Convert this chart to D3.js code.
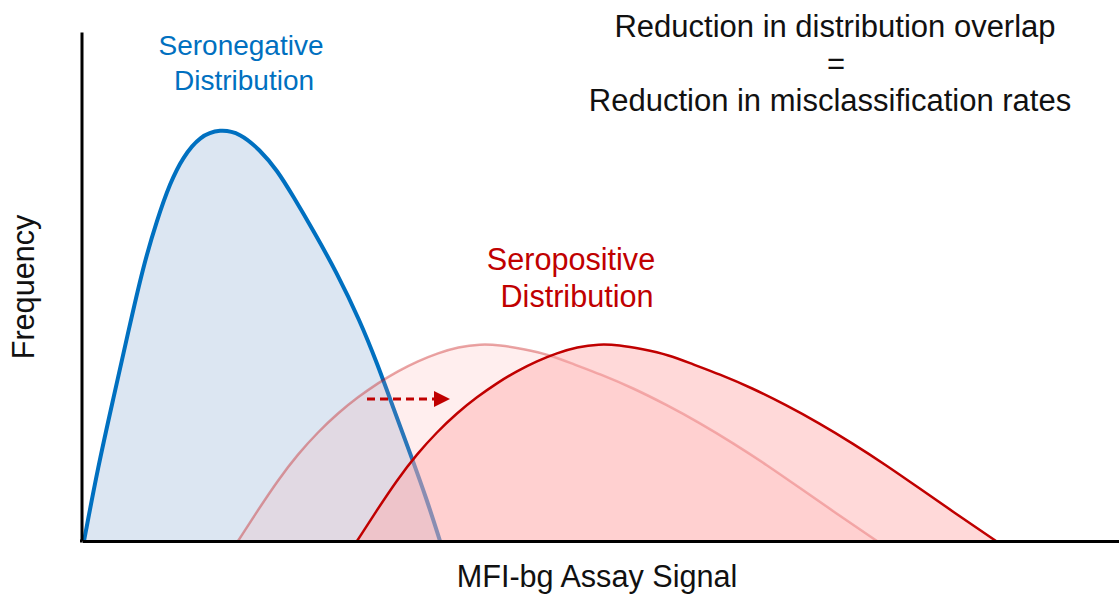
<!DOCTYPE html>
<html><head><meta charset="utf-8">
<script src="https://cdn.jsdelivr.net/npm/d3@7"></script>
<style>
html,body{margin:0;padding:0;background:#fff;}
svg{display:block;font-family:"Liberation Sans", Arial, Helvetica, sans-serif;}
</style>
</head><body>
<svg id="chart" width="1119" height="597"></svg>
<script>
// ---- Data (arbitrary signal / frequency units) ----
const seronegativeSignal = [2, 16, 31, 46, 61, 75, 88, 101, 118, 138, 158, 178, 195, 211, 231, 255, 278, 295, 311, 328, 345, 358];
const seronegativeFreq   = [0, 74, 141, 208, 274, 321, 358, 384, 405, 412, 408, 391, 371, 345, 311, 268, 220, 178, 134, 88, 41, 0];

const seropositiveBeforeSignal = [156, 176, 196, 216, 236, 256, 276, 296, 316, 336, 356, 376, 398, 418, 441, 468, 491, 518, 551, 585, 618, 651, 685, 718, 751, 795];
const seropositiveBeforeFreq   = [0, 31, 61, 87, 109, 128, 144, 158, 170, 180, 188, 194, 197, 196, 192, 186, 177, 167, 153, 136, 118, 98, 76, 53, 30, 0];

const seropositiveAfterSignal = [275, 295, 315, 335, 355, 375, 395, 415, 435, 455, 475, 495, 517, 537, 560, 587, 610, 637, 670, 704, 737, 770, 804, 837, 870, 914];
const seropositiveAfterFreq   = [0, 31, 61, 87, 109, 128, 144, 158, 170, 180, 188, 194, 197, 196, 192, 186, 177, 167, 153, 136, 118, 98, 76, 53, 30, 0];

const shiftArrowSignal = [285, 368];
const shiftArrowFreq = 142;

const xLabel = "MFI-bg Assay Signal";
const yLabel = "Frequency";
const negLabel = ["Seronegative", "Distribution"];
const posLabel = ["Seropositive", "Distribution"];
const titleLines = ["Reduction in distribution overlap", "=", "Reduction in misclassification rates"];

// ---- Drawing ----
const svg = d3.select("#chart");
const x = d3.scaleLinear().domain([0, 1037]).range([82, 1119]);
const y = d3.scaleLinear().domain([0, 509]).range([541, 32]);

const zip = (xs, ys) => xs.map((v, i) => ({x: v, y: ys[i]}));
const area = d3.area().x(d => x(d.x)).y0(y(0)).y1(d => y(d.y)).curve(d3.curveBasis);
const line = d3.line().x(d => x(d.x)).y(d => y(d.y)).curve(d3.curveBasis);

const neg = zip(seronegativeSignal, seronegativeFreq);
const posBefore = zip(seropositiveBeforeSignal, seropositiveBeforeFreq);
const posAfter = zip(seropositiveAfterSignal, seropositiveAfterFreq);

// seronegative
svg.append("path").attr("d", area(neg)).attr("fill", "#DCE6F2");
svg.append("path").attr("d", line(neg)).attr("fill", "none").attr("stroke", "#0070C0").attr("stroke-width", 4).attr("stroke-linejoin", "round");

// seropositive (before shift, faded)
svg.append("path").attr("d", area(posBefore)).attr("fill", "rgba(255,150,150,0.16)");
svg.append("path").attr("d", line(posBefore)).attr("fill", "none").attr("stroke", "#C00000").attr("stroke-opacity", 0.35).attr("stroke-width", 2.5);

// seropositive (after shift)
svg.append("path").attr("d", area(posAfter)).attr("fill", "rgba(255,170,170,0.45)");
svg.append("path").attr("d", line(posAfter)).attr("fill", "none").attr("stroke", "#C00000").attr("stroke-width", 2.5);

// shift arrow
const ay = y(shiftArrowFreq);
const ax0 = x(shiftArrowSignal[0]), ax1 = x(shiftArrowSignal[1]);
svg.append("line").attr("x1", ax0).attr("x2", ax1 - 16).attr("y1", ay).attr("y2", ay)
  .attr("stroke", "#C00000").attr("stroke-width", 3).attr("stroke-dasharray", "8,5");
svg.append("path").attr("d", `M${ax1},${ay} L${ax1 - 16},${ay - 8} L${ax1 - 16},${ay + 8} Z`).attr("fill", "#C00000");

// axes
const xAxis = d3.axisBottom(x).tickValues([]).tickSizeOuter(0);
const yAxis = d3.axisLeft(y).tickValues([]).tickSizeOuter(0);
const gx = svg.append("g").attr("transform", `translate(0,${y(0)})`).call(xAxis);
gx.select(".domain").attr("stroke", "#000").attr("stroke-width", 3);
const gy = svg.append("g").attr("transform", `translate(${x(0) - 0.5},0)`).call(yAxis);
gy.select(".domain").attr("stroke", "#000").attr("stroke-width", 3);
svg.append("line").attr("x1", x(0) - 2).attr("x2", x(0)).attr("y1", y(0)).attr("y2", y(0)).attr("stroke", "#000").attr("stroke-width", 3);

// labels
svg.append("text").attr("x", 597).attr("y", 587).attr("text-anchor", "middle")
  .attr("font-size", 30.6).attr("fill", "#111").text(xLabel);
svg.append("text").attr("transform", "translate(34,287) rotate(-90)").attr("text-anchor", "middle")
  .attr("font-size", 30.6).attr("fill", "#111").text(yLabel);

svg.append("text").attr("x", 241).attr("y", 55).attr("text-anchor", "middle").attr("font-size", 28).attr("fill", "#0070C0").text(negLabel[0]);
svg.append("text").attr("x", 244).attr("y", 90).attr("text-anchor", "middle").attr("font-size", 28).attr("fill", "#0070C0").text(negLabel[1]);

svg.append("text").attr("x", 571).attr("y", 270).attr("text-anchor", "middle").attr("font-size", 30.6).attr("fill", "#C00000").text(posLabel[0]);
svg.append("text").attr("x", 577).attr("y", 307).attr("text-anchor", "middle").attr("font-size", 30.6).attr("fill", "#C00000").text(posLabel[1]);

const titleY = [37, 74, 111];
const titleX = [835, 836, 830];
titleLines.forEach((t, i) => {
  svg.append("text").attr("x", titleX[i]).attr("y", titleY[i]).attr("text-anchor", "middle")
    .attr("font-size", 31).attr("fill", "#111").text(t);
});
</script>
</body></html>
